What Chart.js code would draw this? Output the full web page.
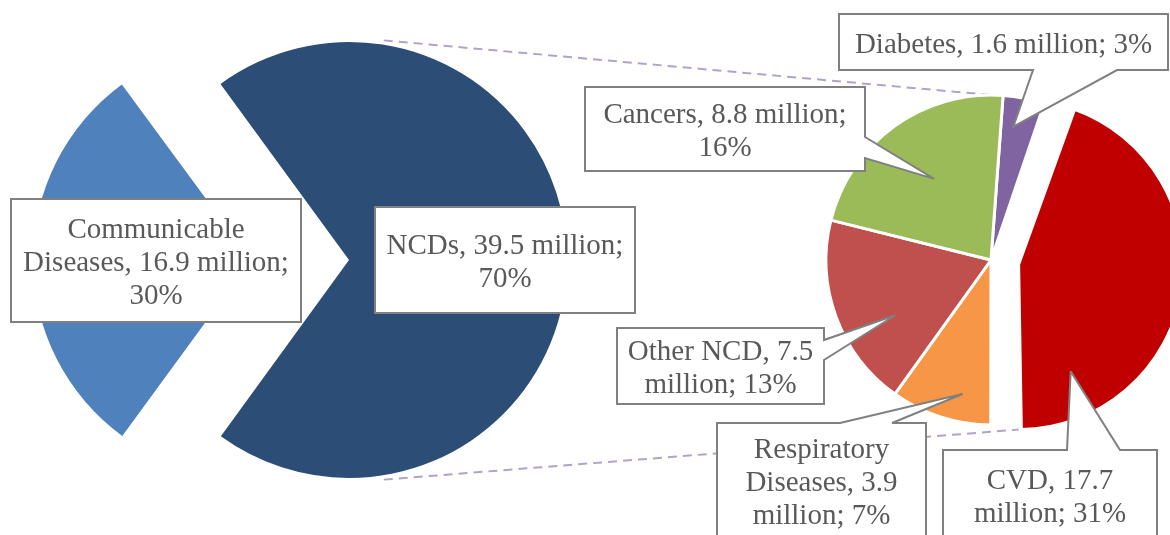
<!DOCTYPE html>
<html>
<head>
<meta charset="utf-8">
<title>Deaths by cause</title>
<script src="https://cdn.jsdelivr.net/npm/chart.js@4.4.1/dist/chart.umd.min.js"></script>
<style>
    html, body { margin: 0; padding: 0; background: #fff; }
    #wrap { position: relative; width: 1170px; height: 535px; overflow: hidden; }
    #wrap canvas { position: absolute; left: 0; top: 0; }
</style>
</head>
<body>
<div id="wrap">
    <canvas id="mainPie" width="1170" height="535"></canvas>
    <canvas id="ncdPie" width="1170" height="535"></canvas>
</div>
<script>
// all deaths, million
const mainLabels = ['Communicable Diseases', 'NCDs'];
const mainValues = [16.9, 39.5];

// NCD breakdown, million (clockwise from 12 o'clock)
const ncdLabels = ['Diabetes', 'CVD', 'Respiratory Diseases', 'Other NCD', 'Cancers'];
const ncdValues = [1.6, 17.7, 3.9, 7.5, 8.8];

const mainColors = ['#4f81bd', '#2c4d75'];
const ncdColors = ['#8064a2', '#c00000', '#f79646', '#c0504d', '#9bbb59'];
const mainOffsets = [392, 0];
const ncdOffsets = [0, 112, 0, 0, 0];

const grandTotal = mainValues.reduce((a, b) => a + b, 0);

// label boxes (px); pointer sits on an edge, tip given as angle (deg clockwise from top) and share of radius
const mainBoxes = [
    { x: 11, y: 199, w: 290, h: 123 },
    { x: 375, y: 207, w: 260, h: 106 }
];
const ncdBoxes = [
    { x: 839, y: 14, w: 329, h: 56, edge: 'bottom', from: 1117, to: 1033, angle: 9.5, r: 0.82 },
    { x: 943, y: 450, w: 214, h: 89, edge: 'top', from: 1067, to: 1120, angle: 154, r: 0.72 },
    { x: 717, y: 423, w: 209, h: 115, edge: 'top', from: 840, to: 892, angle: 192, r: 0.83 },
    { x: 617, y: 328, w: 207, h: 76, edge: 'right', from: 340, to: 360, angle: 240, r: 0.67 },
    { x: 585, y: 87, w: 280, h: 84, edge: 'right', from: 137, to: 158, angle: 325, r: 0.6 }
];

const FONT = '29px "Liberation Serif", "Times New Roman", serif';
const TEXT_COLOR = '#595959';
const BOX_BORDER = '#808080';

function labelText(name, value) {
    const pct = Math.round(value / grandTotal * 100);
    return `${name}, ${value} million; ${pct}%`;
}

function wrapText(ctx, text, maxWidth) {
    const words = text.split(' ');
    const lines = [];
    let line = '';
    words.forEach(word => {
        const test = line ? line + ' ' + word : word;
        if (line && ctx.measureText(test).width > maxWidth) {
            lines.push(line);
            line = word;
        } else {
            line = test;
        }
    });
    if (line) {
        lines.push(line);
    }
    return lines;
}

// point on a (possibly exploded) slice, same geometry the arc element draws with
function arcPoint(arc, deg, frac) {
    const off = (arc.options.offset || 0) / 4;
    const mid = (arc.startAngle + arc.endAngle) / 2;
    const fix = 1 - Math.sin(Math.min(Math.PI, arc.circumference));
    const r = arc.outerRadius + off * fix;
    const cx = arc.x + Math.cos(mid) * off;
    const cy = arc.y + Math.sin(mid) * off;
    const a = (deg - 90) * Math.PI / 180;
    return { x: cx + Math.cos(a) * r * frac, y: cy + Math.sin(a) * r * frac };
}

function drawCallout(ctx, box, tip, text) {
    const { x, y, w, h } = box;
    ctx.save();
    ctx.beginPath();
    ctx.moveTo(x, y);
    if (box.edge === 'top') {
        ctx.lineTo(box.from, y);
        ctx.lineTo(tip.x, tip.y);
        ctx.lineTo(box.to, y);
    }
    ctx.lineTo(x + w, y);
    if (box.edge === 'right') {
        ctx.lineTo(x + w, box.from);
        ctx.lineTo(tip.x, tip.y);
        ctx.lineTo(x + w, box.to);
    }
    ctx.lineTo(x + w, y + h);
    if (box.edge === 'bottom') {
        ctx.lineTo(box.from, y + h);
        ctx.lineTo(tip.x, tip.y);
        ctx.lineTo(box.to, y + h);
    }
    ctx.lineTo(x, y + h);
    ctx.closePath();
    ctx.fillStyle = '#fff';
    ctx.fill();
    ctx.lineWidth = 2;
    ctx.lineJoin = 'miter';
    ctx.miterLimit = 3;
    ctx.strokeStyle = BOX_BORDER;
    ctx.stroke();

    ctx.font = FONT;
    ctx.fillStyle = TEXT_COLOR;
    ctx.textAlign = 'center';
    ctx.textBaseline = 'alphabetic';
    const lines = wrapText(ctx, text, w - 16);
    const lineH = 33;
    const first = y + h / 2 + 10.5 - (lines.length - 1) * lineH / 2;
    lines.forEach((l, i) => ctx.fillText(l, x + w / 2, first + i * lineH));
    ctx.restore();
}

// chart.js grows an exploded slice's radius; pull it back so all slices match
const offsetFix = {
    id: 'offsetFix',
    afterDatasetsUpdate(chart) {
        chart.getDatasetMeta(0).data.forEach(arc => {
            const off = (arc.options.offset || 0) / 4;
            if (!off) {
                return;
            }
            const fix = 1 - Math.sin(Math.min(Math.PI, arc.circumference));
            arc.outerRadius -= off * fix;
        });
    }
};

const mainLabelPlugin = {
    id: 'mainLabels',
    afterDatasetsDraw(chart) {
        const ctx = chart.ctx;
        mainBoxes.forEach((box, i) => {
            drawCallout(ctx, box, null, labelText(mainLabels[i], mainValues[i]));
        });
    }
};

let leftChart = null;

const ncdLabelPlugin = {
    id: 'ncdLabels',
    beforeDatasetsDraw(chart) {
        if (!leftChart) {
            return;
        }
        const ncdArc = leftChart.getDatasetMeta(0).data[1];
        const arcs = chart.getDatasetMeta(0).data;
        const pairs = [
            [arcPoint(ncdArc, 9, 1.02), arcPoint(arcs[0], 0, 1)],
            [arcPoint(ncdArc, 171, 1.02), arcPoint(arcs[1], 180, 1)]
        ];
        const ctx = chart.ctx;
        ctx.save();
        ctx.strokeStyle = '#b3a2c7';
        ctx.lineWidth = 2;
        ctx.setLineDash([9, 6]);
        pairs.forEach(([a, b]) => {
            ctx.beginPath();
            ctx.moveTo(a.x, a.y);
            ctx.lineTo(b.x, b.y);
            ctx.stroke();
        });
        ctx.restore();
    },
    afterDatasetsDraw(chart) {
        const ctx = chart.ctx;
        const arcs = chart.getDatasetMeta(0).data;
        ncdBoxes.forEach((box, i) => {
            const tip = arcPoint(arcs[i], box.angle, box.r);
            drawCallout(ctx, box, tip, labelText(ncdLabels[i], ncdValues[i]));
        });
    }
};

const baseOptions = {
    responsive: false,
    animation: false,
    events: [],
    devicePixelRatio: 1,
    plugins: { legend: { display: false }, tooltip: { enabled: false } }
};

leftChart = new Chart(document.getElementById('mainPie'), {
    type: 'pie',
    data: {
        labels: mainLabels,
        datasets: [{
            data: mainValues,
            backgroundColor: mainColors,
            borderWidth: 0,
            offset: mainOffsets,
            rotation: 216,
            radius: 218
        }]
    },
    options: {
        ...baseOptions,
        rotation: 216,
        radius: 218,
        layout: { padding: { left: 0, right: 472, top: 0, bottom: 15 } }
    },
    plugins: [offsetFix, mainLabelPlugin]
});

new Chart(document.getElementById('ncdPie'), {
    type: 'pie',
    data: {
        labels: ncdLabels,
        datasets: [{
            data: ncdValues,
            backgroundColor: ncdColors,
            borderColor: '#ffffff',
            borderWidth: 3,
            offset: ncdOffsets,
            rotation: 4.2,
            radius: 165
        }]
    },
    options: {
        ...baseOptions,
        rotation: 4.2,
        radius: 165,
        layout: { padding: { left: 812, right: 0, top: 0, bottom: 15 } }
    },
    plugins: [offsetFix, ncdLabelPlugin]
});
</script>
</body>
</html>
